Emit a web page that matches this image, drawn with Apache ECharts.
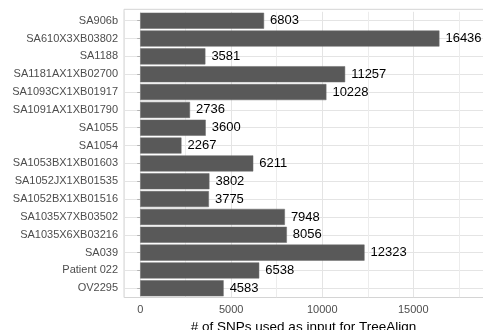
<!DOCTYPE html>
<html>
<head>
<meta charset="utf-8">
<script src="https://cdn.jsdelivr.net/npm/echarts@6/dist/echarts.min.js"></script>
<style>
  html, body { margin: 0; padding: 0; background: #fff; }
  #chart { width: 483px; height: 330px; }
</style>
</head>
<body>
<div id="chart"></div>
<script>
// samples, top to bottom as in the figure
const samples = [
  'SA906b', 'SA610X3XB03802', 'SA1188', 'SA1181AX1XB02700', 'SA1093CX1XB01917',
  'SA1091AX1XB01790', 'SA1055', 'SA1054', 'SA1053BX1XB01603', 'SA1052JX1XB01535',
  'SA1052BX1XB01516', 'SA1035X7XB03502', 'SA1035X6XB03216', 'SA039', 'Patient 022', 'OV2295'
];
const snpCounts = [
  6803, 16436, 3581, 11257, 10228,
  2736, 3600, 2267, 6211, 3802,
  3775, 7948, 8056, 12323, 6538, 4583
];
const majorTicks = [0, 5000, 10000, 15000];
const minorTicks = [2500, 7500, 12500, 17500];

const chart = echarts.init(document.getElementById('chart'));

const axisFont = 'Liberation Sans, Arial, sans-serif';

chart.setOption({
  animation: false,
  grid: [
    {
      // plotting area
      left: 124, right: 0, top: 11.8, bottom: 32.8,
      outerBoundsMode: 'none',
      containLabel: false,
      show: false
    },
    {
      // panel border only
      left: 124, right: -3, top: 9.3, bottom: 32.5,
      outerBoundsMode: 'none',
      show: true, borderColor: '#d4d4d4', borderWidth: 1,
      backgroundColor: 'transparent'
    }
  ],
  xAxis: {
    type: 'value',
    gridIndex: 0,
    min: -890,
    max: 18830,
    splitNumber: 4,
    name: '# of SNPs used as input for TreeAlign',
    nameLocation: 'middle',
    nameGap: 21,
    nameTextStyle: { color: '#000', fontSize: 13.5, fontFamily: axisFont },
    axisLine: { show: false },
    axisTick: { show: false },
    axisLabel: {
      color: '#4d4d4d', fontSize: 11, fontFamily: axisFont, margin: 7,
      showMinLabel: true, showMaxLabel: true,
      formatter: v => (majorTicks.indexOf(v) >= 0 ? String(v) : '')
    },
    splitLine: { show: true, lineStyle: { color: '#e4e4e4', width: 1 } }
  },
  yAxis: {
    type: 'category',
    gridIndex: 0,
    data: samples,
    inverse: true,
    axisLine: { show: false },
    axisTick: { show: true, alignWithLabel: true, length: 3, lineStyle: { color: '#b3b3b3' } },
    axisLabel: { color: '#4d4d4d', fontSize: 11, fontFamily: axisFont, margin: 6 },
    splitLine: { show: true, alignWithLabel: true, lineStyle: { color: '#e4e4e4', width: 1 } }
  },
  series: [{
    type: 'bar',
    data: snpCounts,
    barCategoryGap: '10%',
    z: 3,
    itemStyle: { color: '#595959', borderColor: '#6a6a6a', borderWidth: 0.5 },
    label: {
      show: true,
      position: 'right',
      distance: 6,
      color: '#000',
      fontSize: 13,
      fontFamily: axisFont
    },
    markLine: {
      silent: true,
      z: 1,
      symbol: 'none',
      label: { show: false },
      lineStyle: { color: '#ececec', width: 1, type: 'solid' },
      data: minorTicks.map(v => ({ xAxis: v }))
    }
  }]
});
</script>
</body>
</html>
